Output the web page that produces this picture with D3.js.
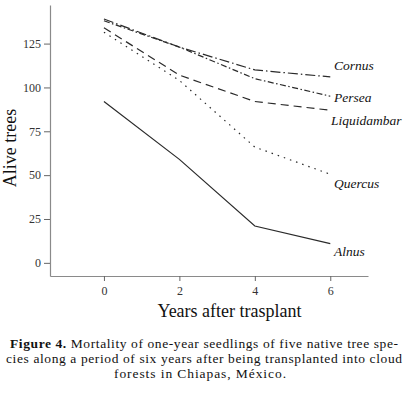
<!DOCTYPE html>
<html>
  <head>
    <meta charset="utf-8">
    <title>Alive trees after trasplant</title>
    <script type="text/javascript" src="https://cdn.jsdelivr.net/npm/d3@7"></script>
    <style>
      body { margin: 0; background: #fff; }
      svg { display: block; }
      svg text, svg tspan { font-family: 'Liberation Serif', 'Times New Roman', serif; }
    </style>
  </head>
  <body>
    <script type="text/javascript">
      // Data
      const years = [0, 2, 4, 6];
      const species = ["Cornus", "Persea", "Liquidambar", "Quercus", "Alnus"];
      const cornus = [139, 123, 110, 106];
      const persea = [138, 123, 105, 95];
      const liquidambar = [134, 107, 92, 87];
      const quercus = [131.5, 104, 66, 50.5];
      const alnus = [92, 59, 21, 11];
      const yTicks = [0, 25, 50, 75, 100, 125];
      const xTicks = [0, 2, 4, 6];

      const seriesValues = [cornus, persea, liquidambar, quercus, alnus];
      const dashes = ["10,3,1.5,3", "6,2.5,1.5,2.5", "8,5", "1.5,5", null];

      const w = 408;
      const h = 394;

      function serif(sel, size) {
        return sel.attr("font-family", "Liberation Serif")
          .style("font-size", size);
      }

      const xScale = d3.scaleLinear().domain([-1.43, 7]).range([50, 368]);
      const yScale = d3.scaleLinear().domain([-7.5, 147]).range([276, 5]);

      const svg = d3.select("body").append("svg")
        .attr("width", w)
        .attr("height", h)
        .attr("font-family", "Liberation Serif");

      // Y-akse
      const yAxis = d3.axisLeft(yScale).tickValues(yTicks).tickSize(6).tickPadding(3).tickSizeOuter(0);
      const gy = svg.append("g")
        .attr("transform", "translate(50,0)")
        .call(yAxis);

      // X-akse
      const xAxis = d3.axisBottom(xScale).tickValues(xTicks).tickSize(5).tickPadding(5).tickSizeOuter(0);
      const gx = svg.append("g")
        .attr("transform", "translate(0,276)")
        .call(xAxis);

      [gx, gy].forEach(g => {
        g.attr("font-family", "Liberation Serif").attr("font-size", 12);
        g.select(".domain").attr("stroke", "#8a8a8a").attr("stroke-width", 1.2);
        g.selectAll(".tick line").attr("stroke", "#666");
        serif(g.selectAll(".tick text"), "12px").attr("fill", "#333");
      });

      // Linjer
      const line = d3.line()
        .x((d, i) => xScale(years[i]))
        .y(d => yScale(d));

      seriesValues.forEach((vals, k) => {
        svg.append("path")
          .datum(vals)
          .attr("d", line)
          .attr("fill", "none")
          .attr("stroke", "#2a2a2a")
          .attr("stroke-width", 1.2)
          .attr("stroke-dasharray", dashes[k]);
      });

      // Labels ved linjer
      const labelY = [65, 97, 120, 183, 251];
      const labs = svg.selectAll("text.lab")
        .data(species)
        .enter()
        .append("text")
        .attr("class", "lab")
        .attr("x", (d, i) => i === 2 ? 331 : 334)
        .attr("y", (d, i) => labelY[i])
        .attr("dy", "0.35em")
        .attr("fill", "#111")
        .style("font-style", "italic")
        .text(d => d);
      serif(labs, "13.5px");

      // Akse-titler
      serif(svg.append("text")
        .attr("transform", "translate(15.5,148) rotate(-90)")
        .attr("text-anchor", "middle")
        .attr("fill", "#111")
        .text("Alive trees"), "18px");

      serif(svg.append("text")
        .attr("x", 229.5)
        .attr("y", 317)
        .attr("text-anchor", "middle")
        .attr("fill", "#111")
        .text("Years after trasplant"), "18px");

      // Figurtekst (justeret som i originalen)
      const capSize = "13.5px";
      const cap1 = serif(svg.append("text")
        .attr("x", 204).attr("y", 348)
        .attr("text-anchor", "middle")
        .attr("textLength", 388)
        .attr("lengthAdjust", "spacing")
        .attr("fill", "#111"), capSize);
      cap1.append("tspan").style("font-weight", "bold").text("Figure 4.");
      cap1.append("tspan").text(" Mortality of one-year seedlings of five native tree spe-");

      serif(svg.append("text")
        .attr("x", 204).attr("y", 363)
        .attr("text-anchor", "middle")
        .attr("textLength", 396)
        .attr("lengthAdjust", "spacing")
        .attr("fill", "#111")
        .text("cies along a period of six years after being transplanted into cloud"), capSize);

      serif(svg.append("text")
        .attr("x", 200).attr("y", 378)
        .attr("text-anchor", "middle")
        .attr("textLength", 172)
        .attr("lengthAdjust", "spacing")
        .attr("fill", "#111")
        .text("forests in Chiapas, México."), capSize);
    </script>
  </body>
</html>
